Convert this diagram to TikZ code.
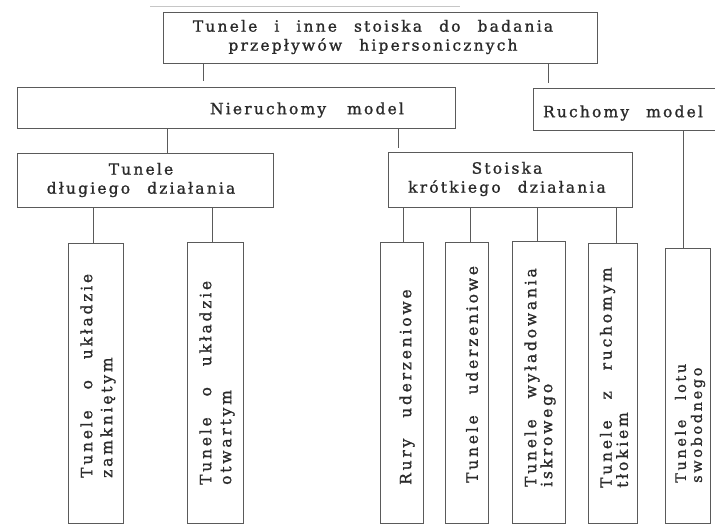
\documentclass[tikz,border=0pt]{standalone}
\usepackage{fontspec}
\newfontfamily\tw{DejaVu Serif}[LetterSpace=14,WordSpace=2.4,FakeBold=1.2]
\newfontfamily\twv{DejaVu Serif}[LetterSpace=18,WordSpace=2.7,FakeBold=1.2]
\definecolor{linecol}{HTML}{5A5A5A}
\definecolor{txtcol}{HTML}{2A2A2A}
\begin{document}
\begin{tikzpicture}[x=1pt,y=-1pt,
  box/.style={draw=linecol, line width=0.9pt, rectangle, inner sep=0pt},
  lbl/.style={inner sep=0pt, text=txtcol, font=\tw\fontsize{15.5}{19}\selectfont, align=center},
  vlbl/.style={inner sep=0pt, text=txtcol, align=left, rotate=90, anchor=west},
  conn/.style={draw=linecol, line width=0.9pt}]
\clip (0,0) rectangle (715,525);
\fill[white] (0,0) rectangle (715,525);
% boxes
\node[box, minimum width=434pt, minimum height=51pt] (top) at (380,37.5) {};
\node[box, minimum width=438pt, minimum height=41pt] (nier) at (236,107.5) {};
\node[box, minimum width=197pt, minimum height=42pt] (ruch) at (631.5,109) {};
\node[box, minimum width=256pt, minimum height=54pt] (dlug) at (145,180) {};
\node[box, minimum width=244pt, minimum height=55pt] (stoi) at (510,179.5) {};
\node[box, minimum width=55pt, minimum height=280pt] (l1) at (95.5,383) {};
\node[box, minimum width=56pt, minimum height=281pt] (l2) at (215,382.5) {};
\node[box, minimum width=43pt, minimum height=281pt] (l3) at (401.5,382.5) {};
\node[box, minimum width=43pt, minimum height=281pt] (l4) at (466.5,382.5) {};
\node[box, minimum width=53pt, minimum height=282pt] (l5) at (538.5,382) {};
\node[box, minimum width=49pt, minimum height=280pt] (l6) at (612.5,383) {};
\node[box, minimum width=45pt, minimum height=275pt] (l7) at (687.5,385.5) {};
% texts
\node[lbl] (ttop) at (373,37) {Tunele i inne stoiska do badania\\przepływów hipersonicznych};
\node[lbl] (tnier) at (307,110) {Nieruchomy\hspace{4pt} model};
\node[lbl] (truch) at (623,113) {Ruchomy model};
\node[lbl] (tdlug) at (141,180) {Tunele\\długiego działania};
\node[lbl] (tstoi) at (507,179) {Stoiska\\krótkiego działania};
\node[vlbl, font=\twv\fontsize{15.5}{20}\selectfont] (t1) at (98,478) {Tunele o układzie\\zamkniętym};
\node[vlbl, font=\twv\fontsize{15.5}{20}\selectfont] (t2) at (217,485) {Tunele o układzie\\otwartym};
\node[vlbl, font=\twv\fontsize{15.5}{16}\selectfont] (t3) at (407,485) {Rury uderzeniowe};
\node[vlbl, font=\twv\fontsize{15.5}{16}\selectfont] (t4) at (472,483) {Tunele uderzeniowe};
\node[vlbl, font=\twv\fontsize{15.5}{16}\selectfont] (t5) at (540,487) {Tunele wyładowania\\iskrowego};
\node[vlbl, font=\twv\fontsize{15.5}{15}\selectfont] (t6) at (614,488) {Tunele z ruchomym\\tłokiem};
\node[vlbl, font=\twv\fontsize{14.5}{16}\selectfont] (t7) at (690,483) {Tunele lotu\\swobodnego};
% connector positions
\coordinate (k1) at (203,0);
\coordinate (k2) at (548,0);
\coordinate (k3) at (167,0);
\coordinate (k4) at (398,0);
\coordinate (k5) at (683,0);
\coordinate (k6) at (93,0);
\coordinate (k7) at (212,0);
\coordinate (k8) at (403,0);
\coordinate (k9) at (470,0);
\coordinate (k10) at (537,0);
\coordinate (k11) at (616,0);
% connectors
\draw[conn, shorten >=6pt] (top.south -| k1) -- (nier.north -| k1);
\draw[conn, shorten >=5pt] (top.south -| k2) -- (ruch.north -| k2);
\draw[conn] (nier.south -| k3) -- (dlug.north -| k3);
\draw[conn, shorten >=4pt] (nier.south -| k4) -- (stoi.north -| k4);
\draw[conn] (ruch.south -| k5) -- (l7.north -| k5);
\draw[conn] (dlug.south -| k6) -- (l1.north -| k6);
\draw[conn] (dlug.south -| k7) -- (l2.north -| k7);
\draw[conn] (stoi.south -| k8) -- (l3.north -| k8);
\draw[conn] (stoi.south -| k9) -- (l4.north -| k9);
\draw[conn] (stoi.south -| k10) -- (l5.north -| k10);
\draw[conn] (stoi.south -| k11) -- (l6.north -| k11);
% faint scan line above the top box
\draw[gray!45, line width=0.6pt] (150,6) -- (460,6);
\end{tikzpicture}
\end{document}
